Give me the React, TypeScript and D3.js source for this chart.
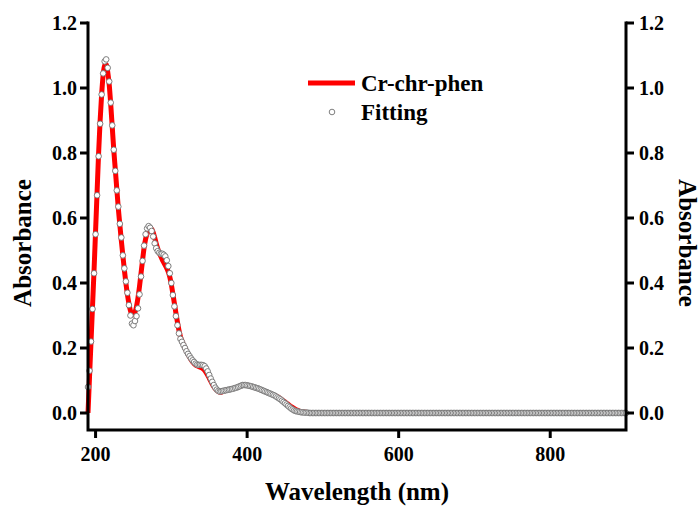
import React from "react";
import * as d3 from "d3";

// fitted points, every 2 nm from 190 nm
const fitStart = 190;
const fitStep = 2;
const fitAbs = [
  0.08, 0.13, 0.22, 0.32, 0.43, 0.55, 0.67, 0.79, 0.89, 0.98,
  1.045, 1.082, 1.088, 1.062, 1.02, 0.955, 0.885, 0.81, 0.745, 0.685,
  0.635, 0.582, 0.54, 0.485, 0.445, 0.405, 0.37, 0.332, 0.3, 0.275,
  0.27, 0.283, 0.298, 0.322, 0.365, 0.42, 0.468, 0.515, 0.55, 0.568,
  0.575, 0.57, 0.56, 0.543, 0.522, 0.507, 0.498, 0.493, 0.49, 0.49,
  0.487, 0.482, 0.47, 0.452, 0.43, 0.4, 0.363, 0.328, 0.298, 0.27,
  0.245, 0.228, 0.219, 0.209, 0.2, 0.19, 0.182, 0.175, 0.168, 0.162,
  0.157, 0.152, 0.149, 0.148, 0.148, 0.148, 0.147, 0.144, 0.137, 0.128,
  0.117, 0.106, 0.096, 0.086, 0.078, 0.072, 0.068, 0.066, 0.067, 0.068,
  0.069, 0.07, 0.071, 0.072, 0.073, 0.074, 0.075, 0.077, 0.078, 0.08,
  0.082, 0.084, 0.086, 0.086, 0.086, 0.085, 0.084, 0.083, 0.082, 0.08,
  0.079, 0.077, 0.076, 0.074, 0.072, 0.07, 0.068, 0.066, 0.064, 0.062,
  0.06, 0.058, 0.056, 0.054, 0.051, 0.048, 0.045, 0.042, 0.038, 0.034,
  0.03, 0.026, 0.022, 0.018, 0.014, 0.011, 0.008, 0.006, 0.005, 0.004,
  0.003, 0.002, 0.002, 0.001, 0.001, 0.001,
  0, 0, 0, 0, 0, 0, 0, 0, 0, 0,
  0, 0, 0, 0, 0, 0, 0, 0, 0, 0,
  0, 0, 0, 0, 0, 0, 0, 0, 0, 0,
  0, 0, 0, 0, 0, 0, 0, 0, 0, 0,
  0, 0, 0, 0, 0, 0, 0, 0, 0, 0,
  0, 0, 0, 0, 0, 0, 0, 0, 0, 0,
  0, 0, 0, 0, 0, 0, 0, 0, 0, 0,
  0, 0, 0, 0, 0, 0, 0, 0, 0, 0,
  0, 0, 0, 0, 0, 0, 0, 0, 0, 0,
  0, 0, 0, 0, 0, 0, 0, 0, 0, 0,
  0, 0, 0, 0, 0, 0, 0, 0, 0, 0,
  0, 0, 0, 0, 0, 0, 0, 0, 0, 0,
  0, 0, 0, 0, 0, 0, 0, 0, 0, 0,
  0, 0, 0, 0, 0, 0, 0, 0, 0, 0,
  0, 0, 0, 0, 0, 0, 0, 0, 0, 0,
  0, 0, 0, 0, 0, 0, 0, 0, 0, 0,
  0, 0, 0, 0, 0, 0, 0, 0, 0, 0,
  0, 0, 0, 0, 0, 0, 0, 0, 0, 0,
  0, 0, 0, 0, 0, 0, 0, 0, 0, 0,
  0, 0, 0, 0, 0, 0, 0, 0, 0, 0,
  0, 0, 0, 0, 0, 0, 0, 0, 0, 0,
];

// measured spectrum (Cr-chr-phen), every 2 nm from 190 to 500 nm
const expStart = 190;
const expStep = 2;
const expAbs = [
  0.0, 0.11, 0.22, 0.33, 0.44, 0.56, 0.68, 0.8, 0.9, 0.98,
  1.04, 1.07, 1.072, 1.05, 1.01, 0.95, 0.88, 0.81, 0.75, 0.69,
  0.63, 0.58, 0.53, 0.485, 0.44, 0.4, 0.365, 0.337, 0.315, 0.303,
  0.302, 0.31, 0.328, 0.355, 0.39, 0.43, 0.47, 0.508, 0.535, 0.552,
  0.562, 0.567, 0.566, 0.556, 0.54, 0.522, 0.506, 0.493, 0.482, 0.472,
  0.463, 0.454, 0.445, 0.434, 0.418, 0.395, 0.367, 0.337, 0.308, 0.28,
  0.255, 0.235, 0.221, 0.21, 0.2, 0.19, 0.181, 0.172, 0.164, 0.157,
  0.152, 0.148, 0.145, 0.143, 0.141, 0.139, 0.136, 0.131, 0.124, 0.116,
  0.107, 0.098, 0.089, 0.081, 0.075, 0.07, 0.066, 0.064, 0.064, 0.066,
  0.068, 0.07, 0.071, 0.072, 0.073, 0.074, 0.075, 0.077, 0.078, 0.08,
  0.082, 0.084, 0.085, 0.086, 0.086, 0.085, 0.084, 0.083, 0.082, 0.08,
  0.079, 0.077, 0.076, 0.074, 0.072, 0.07, 0.068, 0.066, 0.064, 0.062,
  0.06, 0.058, 0.056, 0.054, 0.052, 0.05, 0.047, 0.044, 0.041, 0.037,
  0.034, 0.03, 0.027, 0.023, 0.02, 0.017, 0.014, 0.011, 0.009, 0.007,
  0.005, 0.004, 0.003, 0.002, 0.002, 0.001, 0.001, 0.001, 0.0, 0.0,
  0, 0, 0, 0, 0, 0,
];
const expTailWl = [600, 700, 800, 900];
const expTailAbs = [0, 0, 0, 0];

const xTicks = [200, 400, 600, 800];
const yTicks = [0, 0.2, 0.4, 0.6, 0.8, 1.0, 1.2];

const font = "'Liberation Serif', 'Times New Roman', serif";

export default function App() {
  const W = 700;
  const H = 507;
  const left = 88, right = 626, top = 23, bottom = 430;

  const x = d3.scaleLinear().domain([190, 900]).range([left, right]);
  const y = d3.scaleLinear().domain([-0.0523, 1.2]).range([bottom, top]);

  const fitPts: [number, number][] = fitAbs.map((v, i) => [fitStart + i * fitStep, v]);
  const expPts: [number, number][] = expAbs
    .map((v, i) => [expStart + i * expStep, v] as [number, number])
    .concat(expTailWl.map((w, i) => [w, expTailAbs[i]] as [number, number]));

  const line = d3
    .line<[number, number]>()
    .x((d) => x(d[0]))
    .y((d) => y(d[1]))
    .curve(d3.curveMonotoneX);

  const axisW = 3;

  return (
    <svg
      width={W}
      height={H}
      style={{ position: "absolute", left: 0, top: 0, background: "#fff" }}
      fontFamily={font}
      fontWeight="bold"
    >
      <rect width={W} height={H} fill="#fff" />

      {/* measured curve */}
      <path d={line(expPts) || ""} fill="none" stroke="#ff0000" strokeWidth={5} strokeLinejoin="round" />

      {/* fitting points */}
      <g>
        {fitPts.map((d, i) => (
          <circle key={i} cx={x(d[0])} cy={y(d[1])} r={2.8} fill="#fff" stroke="#707070" strokeWidth={0.9} />
        ))}
      </g>

      {/* frame: left, bottom, right */}
      <path
        d={`M${left},${top}V${bottom}H${right}V${top}`}
        fill="none"
        stroke="#000"
        strokeWidth={axisW}
        strokeLinecap="square"
      />

      {/* left ticks */}
      {yTicks.map((t) => (
        <g key={"l" + t}>
          <line x1={left - 8} x2={left} y1={y(t)} y2={y(t)} stroke="#000" strokeWidth={axisW} />
          <text x={left - 11} y={y(t)} dy="0.35em" textAnchor="end" fontSize={20}>
            {t.toFixed(1)}
          </text>
        </g>
      ))}

      {/* right ticks */}
      {yTicks.map((t) => (
        <g key={"r" + t}>
          <line x1={right} x2={right + 8} y1={y(t)} y2={y(t)} stroke="#000" strokeWidth={axisW} />
          <text x={right + 13} y={y(t)} dy="0.35em" textAnchor="start" fontSize={20}>
            {t.toFixed(1)}
          </text>
        </g>
      ))}

      {/* bottom ticks */}
      {xTicks.map((t) => (
        <g key={"b" + t}>
          <line x1={x(t)} x2={x(t)} y1={bottom} y2={bottom + 8} stroke="#000" strokeWidth={axisW} />
          <text x={x(t)} y={461} textAnchor="middle" fontSize={20}>
            {t}
          </text>
        </g>
      ))}

      {/* axis titles */}
      <text x={(left + right) / 2} y={500} textAnchor="middle" fontSize={25}>
        Wavelength (nm)
      </text>
      <text transform="translate(31,243) rotate(-90)" textAnchor="middle" fontSize={25}>
        Absorbance
      </text>
      <text transform="translate(679,243) rotate(90)" textAnchor="middle" fontSize={25}>
        Absorbance
      </text>

      {/* legend */}
      <line x1={308} x2={355} y1={83} y2={83} stroke="#ff0000" strokeWidth={5} />
      <text x={361} y={91} fontSize={23}>
        Cr-chr-phen
      </text>
      <circle cx={332} cy={112} r={2.8} fill="#fff" stroke="#707070" strokeWidth={0.9} />
      <text x={361} y={120} fontSize={23}>
        Fitting
      </text>
    </svg>
  );
}
